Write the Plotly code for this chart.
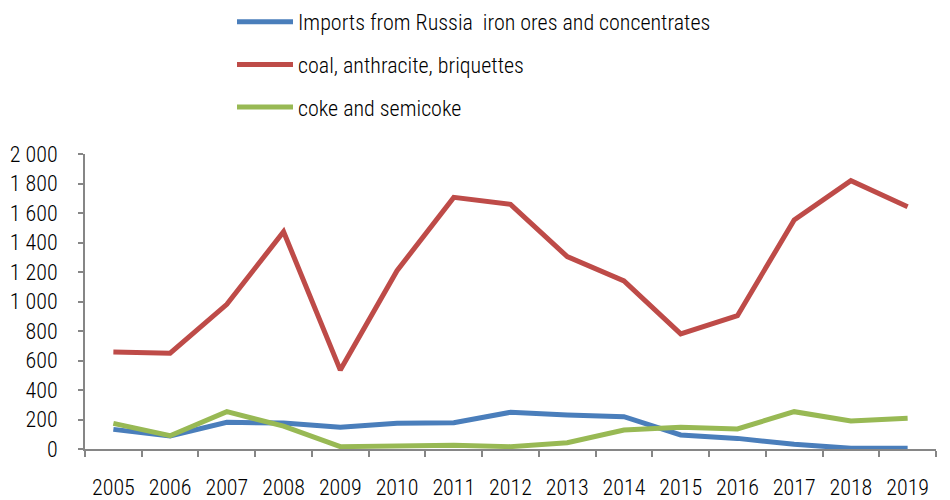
import plotly.graph_objects as go

years = ["2005", "2006", "2007", "2008", "2009", "2010", "2011", "2012",
         "2013", "2014", "2015", "2016", "2017", "2018", "2019"]
iron_ores = [133, 88, 181, 176, 147, 174, 178, 249, 230, 219, 95, 72, 32, 5, 5]
coal = [658, 650, 981, 1473, 535, 1209, 1706, 1659, 1304, 1139, 780, 904, 1553, 1819, 1643]
coke = [174, 90, 253, 155, 16, 22, 25, 16, 43, 129, 147, 136, 253, 190, 208]
y_ticks = [0, 200, 400, 600, 800, 1000, 1200, 1400, 1600, 1800, 2000]
y_tick_text = ["0", "200", "400", "600", "800", "1 000", "1 200", "1 400", "1 600", "1 800", "2 000"]

series = [
    ("Imports from Russia  iron ores and concentrates", iron_ores, "#4A7EBB"),
    ("coal, anthracite, briquettes", coal, "#BE4B48"),
    ("coke and semicoke", coke, "#98B954"),
]

FONT = "Liberation Sans Narrow, Arial Narrow, Roboto Condensed, DejaVu Sans Condensed, sans-serif"

fig = go.Figure()
for i, (name, vals, color) in enumerate(series):
    fig.add_trace(go.Scatter(
        x=years, y=vals, name=name, mode="lines",
        line=dict(color=color, width=5),
        legendgroup=f"g{i}",
    ))

fig.update_layout(
    width=950, height=500,
    margin=dict(l=77, r=22, t=146, b=59, autoexpand=False),
    paper_bgcolor="white", plot_bgcolor="white",
    font=dict(family=FONT, size=22, color="black", weight=300),
    showlegend=True,
    legend=dict(
        x=(224 - 77) / 851, xanchor="left",
        y=1 + 153 / 295, yanchor="top",
        orientation="v",
        font=dict(family=FONT, size=22, color="black", weight=300),
        itemwidth=56,
        tracegroupgap=11,
        bgcolor="rgba(0,0,0,0)",
    ),
    xaxis=dict(
        type="category",
        showgrid=False,
        showline=True, linecolor="#868686", linewidth=2,
        ticks="outside", ticklen=6, tickcolor="#868686", tickwidth=2,
        tickson="boundaries",
        ticklabelstandoff=18,
        tickfont=dict(family=FONT, size=22, color="black", weight=300),
        range=[-0.5, 14.5],
        automargin=False,
        fixedrange=True,
    ),
    yaxis=dict(
        range=[0, 2000],
        showgrid=False, zeroline=False,
        showline=True, linecolor="#868686", linewidth=2,
        ticks="outside", ticklen=5, tickcolor="#868686", tickwidth=2,
        tickvals=y_ticks, ticktext=y_tick_text,
        ticklabelstandoff=16,
        tickfont=dict(family=FONT, size=22, color="black", weight=300),
        automargin=False,
        fixedrange=True,
    ),
)

fig.write_html("out.html")
